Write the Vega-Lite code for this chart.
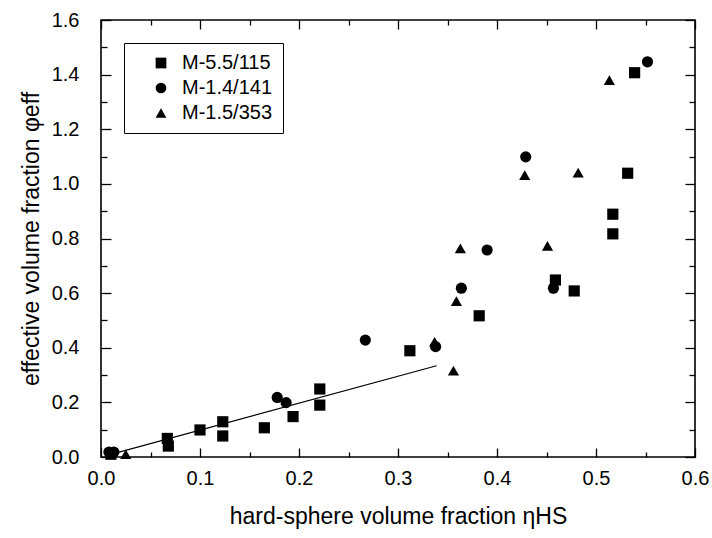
{
  "$schema": "https://vega.github.io/schema/vega-lite/v6.json",
  "width": 594,
  "height": 437,
  "autosize": "none",
  "padding": {"left": 101, "top": 20, "right": 17, "bottom": 81},
  "background": "white",
  "config": {
    "font": "Liberation Sans",
    "view": {"stroke": "black", "strokeWidth": 1.6},
    "axis": {"grid": false, "domain": false, "ticks": true, "labelColor": "black", "titleColor": "black", "labelFont": "Liberation Sans", "titleFont": "Liberation Sans", "labelFontSize": 20, "titleFontSize": 23, "titleFontWeight": "normal", "labelFlush": false, "labelOverlap": false}
  },
  "datasets": {
    "pts": [
      {"eta": 0.008, "phi": 0.018, "sample": "M-1.4/141"},
      {"eta": 0.013, "phi": 0.018, "sample": "M-1.4/141"},
      {"eta": 0.010, "phi": 0.010, "sample": "M-5.5/115"},
      {"eta": 0.025, "phi": 0.010, "sample": "M-1.5/353"},
      {"eta": 0.067, "phi": 0.068, "sample": "M-5.5/115"},
      {"eta": 0.068, "phi": 0.040, "sample": "M-5.5/115"},
      {"eta": 0.100, "phi": 0.099, "sample": "M-5.5/115"},
      {"eta": 0.123, "phi": 0.129, "sample": "M-5.5/115"},
      {"eta": 0.123, "phi": 0.077, "sample": "M-5.5/115"},
      {"eta": 0.165, "phi": 0.107, "sample": "M-5.5/115"},
      {"eta": 0.194, "phi": 0.148, "sample": "M-5.5/115"},
      {"eta": 0.221, "phi": 0.249, "sample": "M-5.5/115"},
      {"eta": 0.221, "phi": 0.190, "sample": "M-5.5/115"},
      {"eta": 0.312, "phi": 0.389, "sample": "M-5.5/115"},
      {"eta": 0.382, "phi": 0.517, "sample": "M-5.5/115"},
      {"eta": 0.459, "phi": 0.648, "sample": "M-5.5/115"},
      {"eta": 0.478, "phi": 0.608, "sample": "M-5.5/115"},
      {"eta": 0.517, "phi": 0.889, "sample": "M-5.5/115"},
      {"eta": 0.517, "phi": 0.817, "sample": "M-5.5/115"},
      {"eta": 0.532, "phi": 1.039, "sample": "M-5.5/115"},
      {"eta": 0.539, "phi": 1.407, "sample": "M-5.5/115"},
      {"eta": 0.178, "phi": 0.218, "sample": "M-1.4/141"},
      {"eta": 0.187, "phi": 0.199, "sample": "M-1.4/141"},
      {"eta": 0.267, "phi": 0.428, "sample": "M-1.4/141"},
      {"eta": 0.338, "phi": 0.404, "sample": "M-1.4/141"},
      {"eta": 0.364, "phi": 0.618, "sample": "M-1.4/141"},
      {"eta": 0.390, "phi": 0.758, "sample": "M-1.4/141"},
      {"eta": 0.429, "phi": 1.099, "sample": "M-1.4/141"},
      {"eta": 0.457, "phi": 0.618, "sample": "M-1.4/141"},
      {"eta": 0.552, "phi": 1.447, "sample": "M-1.4/141"},
      {"eta": 0.337, "phi": 0.422, "sample": "M-1.5/353"},
      {"eta": 0.356, "phi": 0.316, "sample": "M-1.5/353"},
      {"eta": 0.359, "phi": 0.571, "sample": "M-1.5/353"},
      {"eta": 0.363, "phi": 0.764, "sample": "M-1.5/353"},
      {"eta": 0.428, "phi": 1.032, "sample": "M-1.5/353"},
      {"eta": 0.451, "phi": 0.773, "sample": "M-1.5/353"},
      {"eta": 0.482, "phi": 1.041, "sample": "M-1.5/353"},
      {"eta": 0.5135, "phi": 1.380, "sample": "M-1.5/353"}
    ],
    "fit": [
      {"eta": 0.01, "phi": 0.0099},
      {"eta": 0.339, "phi": 0.334}
    ]
  },
  "layer": [
    {
      "data": {"name": "fit"},
      "mark": {"type": "line", "color": "black", "strokeWidth": 1.2},
      "encoding": {
        "x": {"field": "eta", "type": "quantitative", "scale": {"domain": [0, 0.6], "nice": false, "zero": false},
          "axis": {"orient": "bottom", "title": "hard-sphere volume fraction ηHS", "values": [0,0.1,0.2,0.3,0.4,0.5,0.6],
            "format": ".1f", "offset": -9, "ticks": true, "tickSize": 9, "tickColor": "black", "tickOpacity": 1, "tickWidth": 1.3, "zindex": 2, "labelPadding": 11, "titlePadding": 17}},
        "y": {"field": "phi", "type": "quantitative", "scale": {"domain": [0, 1.6], "nice": false, "zero": false},
          "axis": {"orient": "left", "title": "effective volume fraction φeff", "values": [0,0.2,0.4,0.6,0.8,1.0,1.2,1.4,1.6],
            "format": ".1f", "offset": -10, "ticks": true, "tickSize": 10, "tickColor": "black", "tickOpacity": 1, "tickWidth": 1.3, "zindex": 2, "labelPadding": 22, "titlePadding": 8}}
      }
    },
    {
      "data": {"name": "fit"},
      "mark": {"type": "line", "color": "black", "strokeOpacity": 0},
      "encoding": {
        "x": {"field": "eta", "type": "quantitative",
          "axis": {"orient": "bottom", "title": null, "labels": false, "ticks": true, "tickColor": "black", "tickOpacity": 1, "tickWidth": 1.3, "zindex": 2, "values": [0.05,0.15,0.25,0.35,0.45,0.55], "offset": -5, "tickSize": 5}},
        "y": {"field": "phi", "type": "quantitative",
          "axis": {"orient": "left", "title": null, "labels": false, "ticks": true, "tickColor": "black", "tickOpacity": 1, "tickWidth": 1.3, "zindex": 2, "values": [0.1,0.3,0.5,0.7,0.9,1.1,1.3,1.5], "offset": -6, "tickSize": 6}}
      }
    },
    {
      "data": {"name": "fit"},
      "mark": {"type": "line", "color": "black", "strokeOpacity": 0},
      "encoding": {
        "x": {"field": "eta", "type": "quantitative",
          "axis": {"orient": "top", "title": null, "labels": false, "ticks": true, "tickColor": "black", "tickOpacity": 1, "tickWidth": 1.3, "zindex": 2, "values": [0.05,0.15,0.25,0.35,0.45,0.55], "offset": -5, "tickSize": 5}},
        "y": {"field": "phi", "type": "quantitative",
          "axis": {"orient": "right", "title": null, "labels": false, "ticks": true, "tickColor": "black", "tickOpacity": 1, "tickWidth": 1.3, "zindex": 2, "values": [0.1,0.3,0.5,0.7,0.9,1.1,1.3,1.5], "offset": -6, "tickSize": 6}}
      }
    },
    {
      "data": {"name": "pts"},
      "mark": {"type": "point", "filled": true, "opacity": 1, "color": "black", "size": 125},
      "encoding": {
        "x": {"field": "eta", "type": "quantitative",
          "axis": {"orient": "top", "title": null, "labels": false, "ticks": true, "tickColor": "black", "tickOpacity": 1, "tickWidth": 1.3, "zindex": 2, "values": [0,0.1,0.2,0.3,0.4,0.5,0.6], "offset": -9, "tickSize": 9}},
        "y": {"field": "phi", "type": "quantitative",
          "axis": {"orient": "right", "title": null, "labels": false, "ticks": true, "tickColor": "black", "tickOpacity": 1, "tickWidth": 1.3, "zindex": 2, "values": [0,0.2,0.4,0.6,0.8,1.0,1.2,1.4,1.6], "offset": -10, "tickSize": 10}},
        "shape": {"field": "sample", "type": "nominal",
          "scale": {"domain": ["M-5.5/115", "M-1.4/141", "M-1.5/353"], "range": ["square", "circle", "triangle-up"]},
          "legend": {"title": null, "orient": "top-left", "offset": 23, "strokeColor": "black", "padding": 10,
            "labelFontSize": 20, "labelFont": "Liberation Sans", "labelColor": "black", "symbolSize": 115, "symbolFillColor": "black", "symbolStrokeColor": "black",
            "rowPadding": 5, "labelOffset": 11, "symbolOffset": 17, "fillColor": "white"}}
      }
    }
  ],
  "resolve": {"axis": {"x": "independent", "y": "independent"}}
}
